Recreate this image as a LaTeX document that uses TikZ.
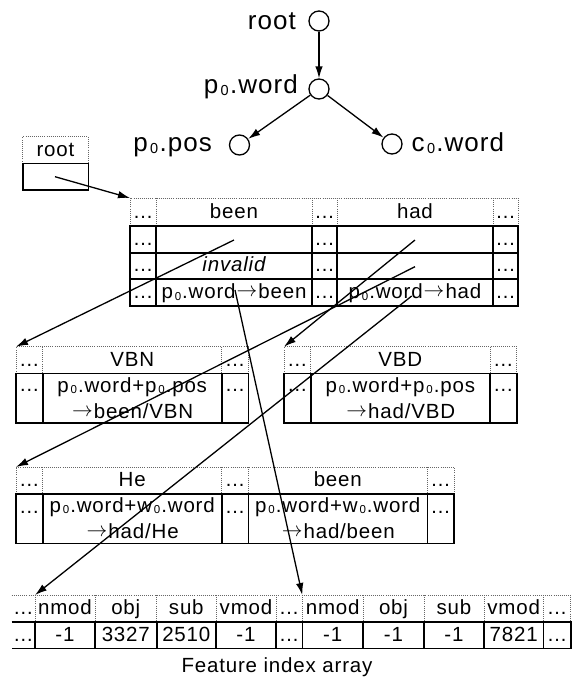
\documentclass[tikz,border=0pt]{standalone}
\usepackage{graphicx}
\usepackage{fontspec}
\setmainfont{Liberation Sans}[LetterSpace=4]
\usetikzlibrary{arrows.meta}
\newcommand\zr[1][11.5]{\kern.09em\raisebox{-.15ex}{\fontsize{#1}{#1}\selectfont 0}\kern.05em}
\newcommand\rarr{\kern.05em\raisebox{.1em}{$\rightarrow$}\kern.05em}
\begin{document}
\begin{tikzpicture}[x=1pt,y=-1pt,font=\fontsize{20.5}{24}\selectfont,
		vert/.style={circle,draw,line width=1.3pt,minimum size=20pt,inner sep=0pt},
		lbl/.style={font=\fontsize{26}{30}\selectfont,inner sep=0pt},
		txt/.style={anchor=base,inner sep=0pt},
		tbl/.style={line width=1.6pt},
		hdr/.style={line width=.7pt,black!60,dash pattern=on .7pt off 1.4pt},
		arr/.style={line width=1.3pt,-{Latex[length=12pt,width=7.5pt]}}]
		\useasboundingbox(0,0)rectangle(574,681);
		\node[vert](root)at(319,21){};
		\node[vert](pw)at(319,89){};
		\node[vert](pp)at(239.5,145){};
		\node[vert](cw)at(392,144){};
		\node[lbl,anchor=base east](root-l)at(296,29.5){root};
		\node[lbl,anchor=base east](pw-l)at(298,93){p\zr[14.5].word};
		\node[lbl,anchor=base east](pp-l)at(212,151.5){p\zr[14.5].pos};
		\node[lbl,anchor=base west](cw-l)at(411.5,151){c\zr[14.5].word};
		\draw[arr](root)--(pw);
		\draw[arr](pw)--(pp);
		\draw[arr](pw)--(cw);
		\draw[hdr](22.7,163.3)--(22.7,136.7)--(88.3,136.7)--(88.3,163.3);
		\draw[tbl](22.7,163.3)rectangle(88.3,190);
		\node[txt](rootbox)at(55.5,156){root};
		\draw[hdr](130,226)--(130,198)--(518,198)--(518,226) (156,198)--(156,226) (312,198)--(312,226) (337,198)--(337,226) (493,198)--(493,226);
		\draw[tbl](130,226)rectangle(518,306) (130,253)--(518,253) (130,279)--(518,279) (156,226)--(156,306) (312,226)--(312,306) (337,226)--(337,306) (493,226)--(493,306);
		\path node[txt](a1)at(143,218.5){…} node[txt](a2)at(324.5,218.5){…} node[txt](a3)at(505.5,218.5){…};
		\path node[txt](a4)at(143,245.5){…} node[txt](a5)at(324.5,245.5){…} node[txt](a6)at(505.5,245.5){…};
		\path node[txt](a7)at(143,271.5){…} node[txt](a8)at(324.5,271.5){…} node[txt](a9)at(505.5,271.5){…};
		\path node[txt](a10)at(143,298.5){…} node[txt](a11)at(324.5,298.5){…} node[txt](a12)at(505.5,298.5){…};
		\node[txt](been)at(234,218.5){been};
		\node[txt](had)at(415,218.5){had};
		\node[txt](inv)at(234,271.5){\itshape invalid};
		\node[txt](pwbeen)at(234,298.5){p\zr.word\rarr been};
		\node[txt](pwhad)at(415,298.5){p\zr.word\rarr had};
		\draw[hdr](16,373.3)--(16,346.7)--(248.3,346.7)--(248.3,373.3) (42.7,346.7)--(42.7,373.3) (221.7,346.7)--(221.7,373.3);
		\draw[tbl](16,373.3)rectangle(248.3,422.7) (42.7,373.3)--(42.7,422.7) (221.7,373.3)--(221.7,422.7);
		\path node[txt](b1)at(29.3,366){…} node[txt](b2)at(235,366){…} node[txt](b3)at(29.3,391.7){…} node[txt](b4)at(235,391.7){…};
		\node[txt](vbn)at(132.2,366){VBN};
		\node[txt](vbn1)at(132.2,392.3){p\zr.word+p\zr.pos};
		\node[txt](vbn2)at(132.2,418.3){\rarr been/VBN};
		\draw[hdr](284,373.3)--(284,346.7)--(516.7,346.7)--(516.7,373.3) (310.7,346.7)--(310.7,373.3) (490,346.7)--(490,373.3);
		\draw[tbl](284,373.3)rectangle(516.7,422.7) (310.7,373.3)--(310.7,422.7) (490,373.3)--(490,422.7);
		\path node[txt](c1)at(297.3,366){…} node[txt](c2)at(503.3,366){…} node[txt](c3)at(297.3,391.7){…} node[txt](c4)at(503.3,391.7){…};
		\node[txt](vbd)at(400.3,366){VBD};
		\node[txt](vbd1)at(400.3,392.3){p\zr.word+p\zr.pos};
		\node[txt](vbd2)at(400.3,418.3){\rarr had/VBD};
		\draw[hdr](16,494)--(16,467)--(454,467)--(454,494) (42.7,467)--(42.7,494) (221.7,467)--(221.7,494) (248.3,467)--(248.3,494) (427.3,467)--(427.3,494);
		\draw[tbl](16,494)rectangle(454,543.4) (42.7,494)--(42.7,543.4) (221.7,494)--(221.7,543.4) (248.3,494)--(248.3,543.4) (427.3,494)--(427.3,543.4);
		\path node[txt](d1)at(29.3,486.7){…} node[txt](d2)at(235,486.7){…} node[txt](d3)at(440.7,486.7){…};
		\path node[txt](d4)at(29.3,513.3){…} node[txt](d5)at(235,513.3){…} node[txt](d6)at(440.7,513.3){…};
		\node[txt](he)at(132.2,486.7){He};
		\node[txt](he1)at(132.2,512.3){p\zr.word+w\zr.word};
		\node[txt](he2)at(132.2,538.3){\rarr had/He};
		\node[txt](bn)at(337.8,486.7){been};
		\node[txt](bn1)at(337.8,512.3){p\zr.word+w\zr.word};
		\node[txt](bn2)at(337.8,538.3){\rarr had/been};
		\draw[hdr](11.7,595)--(570.7,595)--(570.7,621.7) (35,595)--(35,621.7) (95,595)--(95,621.7) (156.7,595)--(156.7,621.7) (216,595)--(216,621.7) (276,595)--(276,621.7) (302.3,595)--(302.3,621.7) (363,595)--(363,621.7) (424,595)--(424,621.7) (484,595)--(484,621.7) (543.3,595)--(543.3,621.7);
		\draw[tbl](11.7,621.7)--(570.7,621.7)--(570.7,648.3)--(11.7,648.3) (35,621.7)--(35,648.3) (95,621.7)--(95,648.3) (156.7,621.7)--(156.7,648.3) (216,621.7)--(216,648.3) (276,621.7)--(276,648.3) (302.3,621.7)--(302.3,648.3) (363,621.7)--(363,648.3) (424,621.7)--(424,648.3) (484,621.7)--(484,648.3) (543.3,621.7)--(543.3,648.3);
		\path node[txt](f1)at(23.3,614){…} node[txt](f2)at(65,614){nmod} node[txt](f3)at(125.8,614){obj} node[txt](f4)at(186.3,614){sub} node[txt](f5)at(246,614){vmod} node[txt](f6)at(289.2,614){…};
		\path node[txt](f7)at(332.7,614){nmod} node[txt](f8)at(393.5,614){obj} node[txt](f9)at(454,614){sub} node[txt](f10)at(513.7,614){vmod} node[txt](f11)at(557,614){…};
		\path node[txt](g1)at(23.3,641.7){…} node[txt](g2)at(65,641.7){-1} node[txt](g3)at(125.8,641.7){3327} node[txt](g4)at(186.3,641.7){2510} node[txt](g5)at(246,641.7){-1} node[txt](g6)at(289.2,641.7){…};
		\path node[txt](g7)at(332.7,641.7){-1} node[txt](g8)at(393.5,641.7){-1} node[txt](g9)at(454,641.7){-1} node[txt](g10)at(513.7,641.7){7821} node[txt](g11)at(557,641.7){…};
		\node[txt](cap)at(277,672.7){Feature index array};
		\coordinate(rb)at(55,176.7);
		\coordinate(t1)at(130,198);
		\coordinate(s1)at(234,240);
		\coordinate(s2)at(415,240);
		\coordinate(s3)at(415,266.7);
		\coordinate(s4)at(411.7,296);
		\coordinate(s5)at(235,290);
		\coordinate(t2)at(16,346.7);
		\coordinate(t3)at(284,346.7);
		\coordinate(t4)at(16,467);
		\coordinate(t5)at(35,595);
		\coordinate(t6)at(302.3,595);
		\draw[arr](rb)--(t1);
		\draw[arr](s1)--(t2);
		\draw[arr](s2)--(t3);
		\draw[arr](s3)--(t4);
		\draw[arr](s4)--(t5);
		\draw[arr](s5)--(t6);
	\end{tikzpicture}
\end{document}
